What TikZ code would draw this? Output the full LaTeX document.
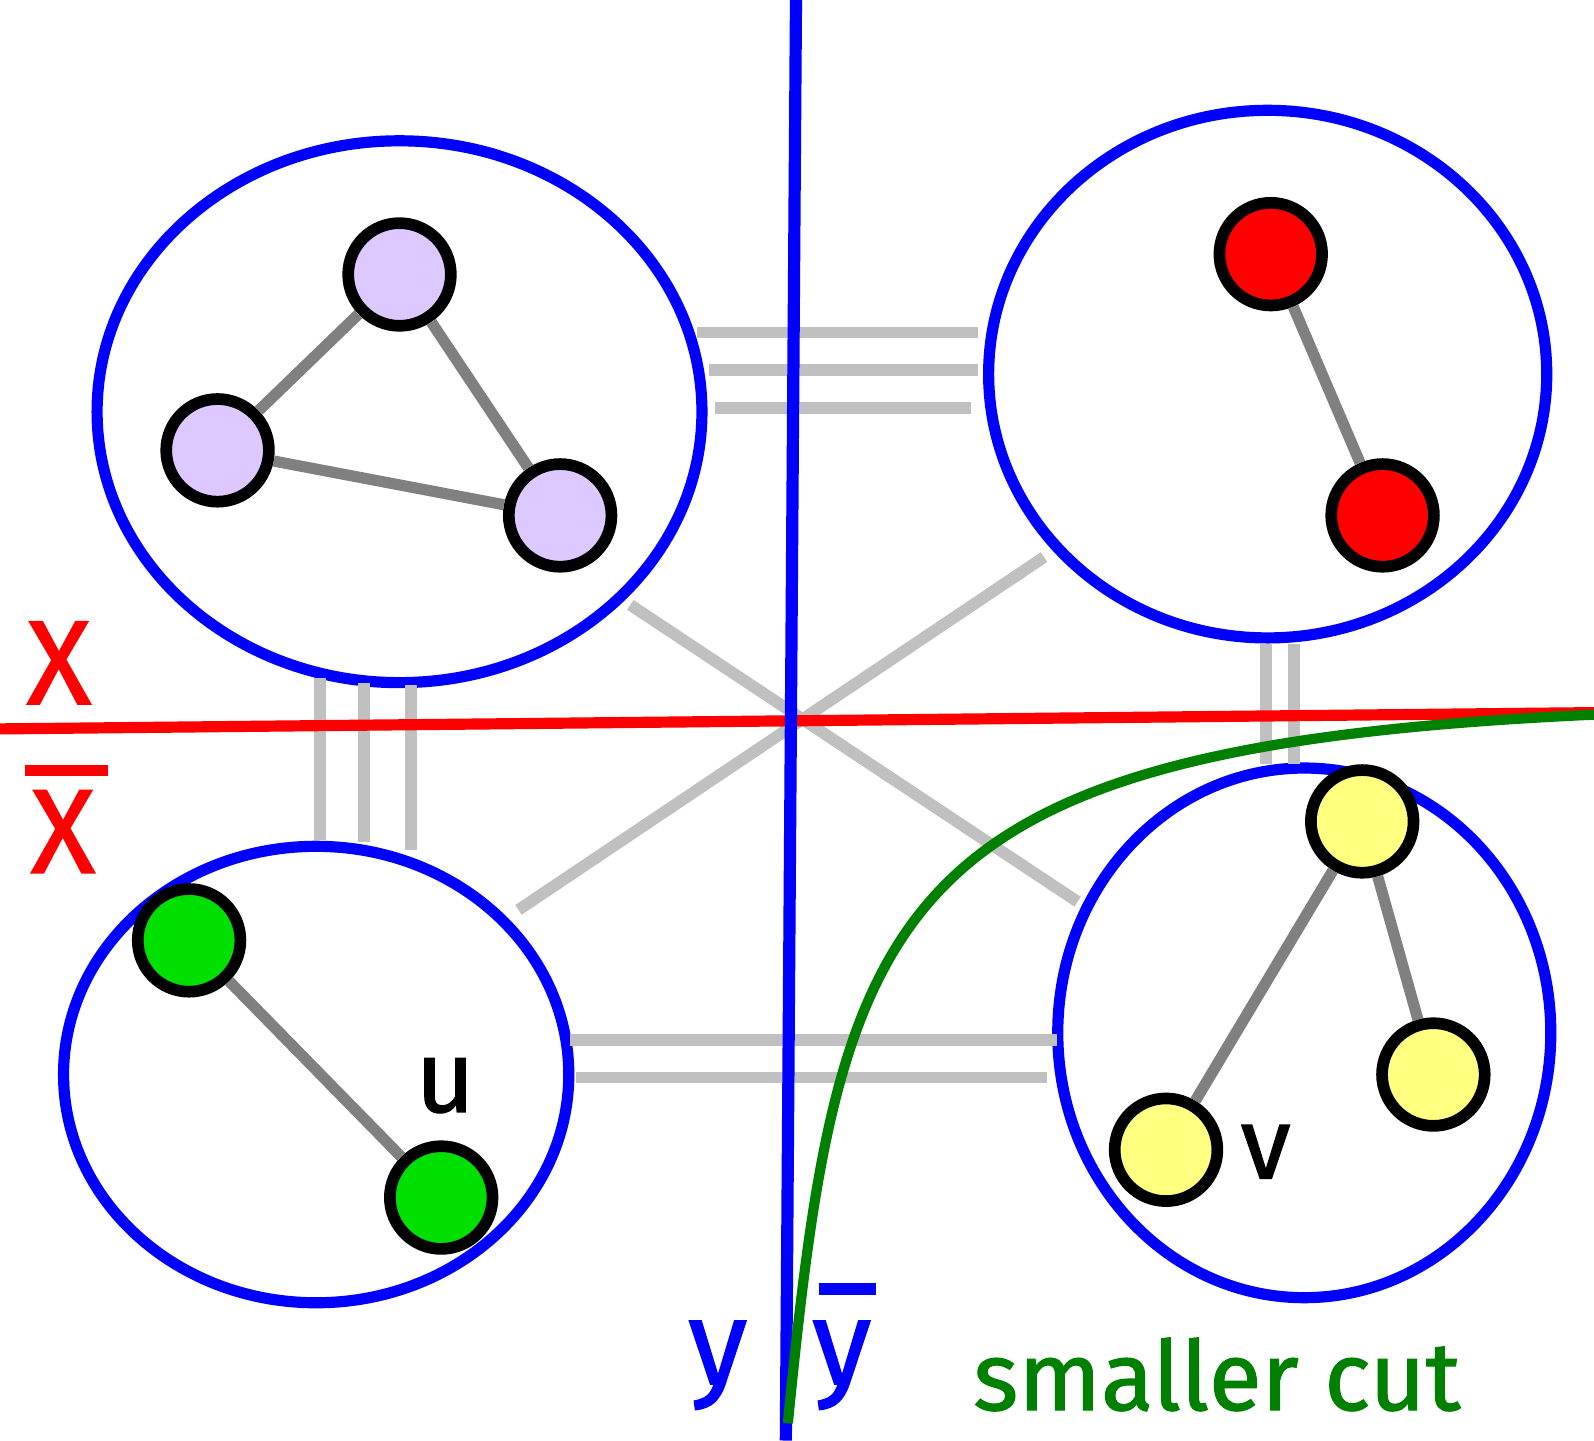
\documentclass[tikz,border=0pt]{standalone}
\usepackage{fontspec}
\setmainfont{Fira Sans}
\newfontfamily\lblfont{Fira Sans}[FakeBold=1.2]
\usetikzlibrary{shapes.geometric}
\definecolor{pblue}{RGB}{0,0,255}
\definecolor{pred}{RGB}{255,0,0}
\definecolor{lav}{RGB}{221,200,255}
\definecolor{lgreen}{RGB}{0,224,0}
\definecolor{lyellow}{RGB}{255,255,128}
\definecolor{dgreen}{RGB}{0,128,0}
\definecolor{edgegray}{RGB}{128,128,128}
\definecolor{cutgray}{RGB}{192,192,192}
\tikzset{
  grp/.style={ellipse, draw=pblue, line width=11pt, inner sep=0pt},
  vtx/.style={circle, draw=black, line width=11.5pt, minimum size=101pt, inner sep=0pt},
  inedge/.style={draw=edgegray, line width=11pt},
  cutedge/.style={draw=cutgray, line width=11.5pt},
  lbl/.style={inner sep=0pt, font=\lblfont\fontsize{118}{118}\selectfont}
}
\begin{document}
\begin{tikzpicture}[x=1pt,y=-1pt]
\useasboundingbox (0,0) rectangle (1568,1417);
% groups
\node[grp, minimum width=595pt, minimum height=533pt] (A) at (393,405) {};
\node[grp, minimum width=549pt, minimum height=519pt] (B) at (1247,368) {};
\node[grp, minimum width=497pt, minimum height=449pt] (C) at (311,1057) {};
\node[grp, minimum width=485pt, minimum height=521pt] (D) at (1283,1016) {};
% cut edges
\coordinate (a1) at (686,327); \coordinate (b1) at (962,327);
\coordinate (a2) at (697,364); \coordinate (b2) at (962,364);
\coordinate (a3) at (703,401); \coordinate (b3) at (955,401);
\draw[cutedge] (a1) -- (b1); \draw[cutedge] (a2) -- (b2); \draw[cutedge] (a3) -- (b3);
\coordinate (c1) at (561,1023); \coordinate (d1) at (1040,1023);
\coordinate (c2) at (567,1060); \coordinate (d2) at (1030,1060);
\draw[cutedge] (c1) -- (d1); \draw[cutedge] (c2) -- (d2);
\coordinate (e1) at (315,667); \coordinate (f1) at (315,826);
\coordinate (e2) at (358,672); \coordinate (f2) at (358,828);
\coordinate (e3) at (404,674); \coordinate (f3) at (404,836);
\draw[cutedge] (e1) -- (f1); \draw[cutedge] (e2) -- (f2); \draw[cutedge] (e3) -- (f3);
\coordinate (g1) at (1245,633); \coordinate (h1) at (1245,752);
\coordinate (g2) at (1273,633); \coordinate (h2) at (1273,752);
\draw[cutedge] (g1) -- (h1); \draw[cutedge] (g2) -- (h2);
\coordinate (k1) at (620,595); \coordinate (l1) at (1060,887);
\coordinate (k2) at (1027,548); \coordinate (l2) at (510,895);
\draw[cutedge] (k1) -- (l1); \draw[cutedge] (k2) -- (l2);
% vertices
\node[vtx, fill=lav] (p1) at (393,270) {};
\node[vtx, fill=lav] (p2) at (214,443) {};
\node[vtx, fill=lav] (p3) at (551,507) {};
\node[vtx, fill=pred] (r1) at (1250,250) {};
\node[vtx, fill=pred] (r2) at (1360,507) {};
\node[vtx, fill=lgreen] (g1n) at (186,925) {};
\node[vtx, fill=lgreen] (u) at (434,1178) {};
\node[vtx, fill=lyellow] (y1) at (1340,808) {};
\node[vtx, fill=lyellow] (y2) at (1410,1057) {};
\node[vtx, fill=lyellow] (v) at (1147,1131) {};
\draw[inedge] (p1) -- (p2); \draw[inedge] (p1) -- (p3); \draw[inedge] (p2) -- (p3);
\draw[inedge] (r1) -- (r2);
\draw[inedge] (g1n) -- (u);
\draw[inedge] (y1) -- (v); \draw[inedge] (y1) -- (y2);
% cut lines
\coordinate (xl) at (0,717); \coordinate (xr) at (1568,701);
\draw[pred, line width=11pt] (xl) -- (xr);
\coordinate (yt) at (783,0); \coordinate (yb) at (773,1417);
\draw[pblue, line width=12pt] (yt) -- (yb);
% smaller cut curve
\coordinate (s0) at (775,1400); \coordinate (s1) at (1568,703);
\draw[dgreen, line width=10pt] (s0) .. controls (826,885) and (872,735) .. (s1);
% labels
\node[lbl, text=pred] (X) at (58,652) {X};
\node[lbl, text=pred] (Xb) at (62,818) {X};
\coordinate (xb1) at (25,758); \coordinate (xb2) at (106,758);
\draw[pred, line width=11pt] (xb1) -- (xb2);
\node[lbl, text=pblue] (Y) at (706,1343) {y};
\node[lbl, text=pblue] (Yb) at (828,1343) {y};
\coordinate (yb1) at (806,1268); \coordinate (yb2) at (862,1268);
\draw[pblue, line width=11pt] (yb1) -- (yb2);
\node[lbl, text=dgreen, font=\lblfont\fontsize{95}{95}\selectfont] (sc) at (1197,1352) {smaller cut};
\node[lbl, font=\lblfont\fontsize{100}{100}\selectfont] (ul) at (438,1068) {u};
\node[lbl, font=\lblfont\fontsize{100}{100}\selectfont] (vl) at (1245,1133) {v};
\end{tikzpicture}
\end{document}
